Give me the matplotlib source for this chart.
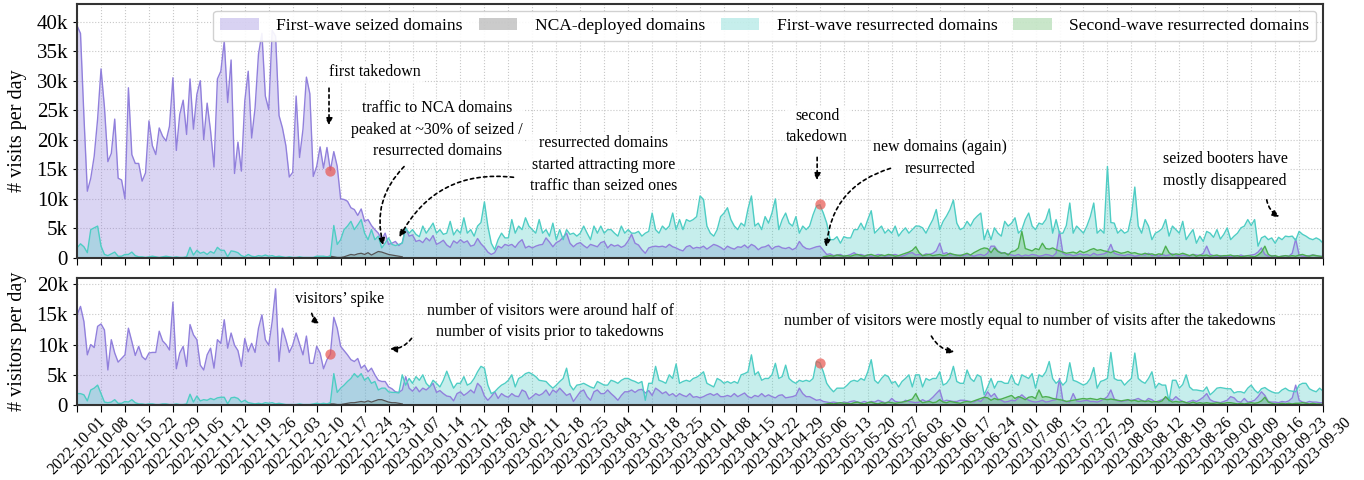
import pandas as pd
import matplotlib
matplotlib.use("Agg")
import matplotlib.pyplot as plt
import matplotlib.dates as mdates
from matplotlib.patches import Patch
from matplotlib.ticker import FuncFormatter, MultipleLocator

plt.rcParams['font.family'] = 'serif'
plt.rcParams['font.serif'] = ['Liberation Serif', 'DejaVu Serif']

# daily values in thousands, starting 2022-10-01
start = '2022-10-01'

seized_visits = [
    39.3, 38.0, 24.0, 11.3, 13.5, 17.2, 23.5,
    32.0, 25.5, 16.3, 17.7, 23.5, 13.5, 13.2,
    10.0, 28.8, 17.5, 16.0, 16.0, 13.0, 14.4,
    23.2, 19.0, 17.5, 22.0, 20.6, 19.8, 22.3,
    30.5, 18.2, 24.3, 26.7, 20.9, 30.3, 21.8,
    27.7, 30.0, 20.0, 26.2, 21.5, 15.4, 30.3,
    31.6, 36.7, 26.3, 33.5, 14.3, 19.6, 14.7,
    26.6, 31.6, 20.3, 25.4, 34.5, 38.0, 27.4,
    25.1, 38.5, 37.5, 24.1, 22.0, 19.0, 13.7,
    14.5, 27.4, 17.0, 21.8, 30.6, 27.8, 13.8,
    15.5, 18.8, 15.2, 18.7, 14.8, 18.0, 15.5,
    10.0, 9.9, 9.6, 8.5, 8.2, 7.2, 8.3,
    6.2, 6.5, 5.5, 4.8, 4.2, 3.1, 4.2,
    2.3, 2.5, 2.8, 2.1, 2.6, 5.1, 3.7,
    3.9, 2.8, 3.0, 2.6, 3.4, 2.9, 3.8,
    2.3, 2.6, 3.0, 2.2, 1.8, 2.9, 2.5,
    3.1, 2.6, 2.9, 2.0, 2.2, 3.3, 2.4,
    1.8, 1.0, 0.6, 0.9, 2.0, 1.7, 2.3,
    2.1, 2.3, 1.8, 2.6, 3.1, 1.7, 2.0,
    1.7, 2.0, 2.2, 2.3, 3.4, 2.7, 1.9,
    2.6, 2.9, 3.5, 4.2, 2.5, 1.9, 2.4,
    2.6, 2.1, 1.7, 2.3, 2.1, 1.9, 2.6,
    2.8, 1.7, 2.3, 2.0, 2.2, 1.8, 2.1,
    2.9, 4.0, 2.5, 2.2, 1.4, 0.8, 1.7,
    1.9, 2.0, 1.9, 2.0, 1.8, 2.3, 1.9,
    1.7, 1.4, 1.2, 1.9, 2.1, 1.6, 1.8,
    1.7, 2.0, 1.5, 1.9, 2.3, 2.1, 1.8,
    1.4, 2.0, 1.7, 1.5, 1.9, 1.8, 2.2,
    1.7, 2.3, 2.0, 1.4, 1.8, 1.9, 2.2,
    1.5, 1.9, 2.0, 1.7, 1.6, 1.8, 1.4,
    1.7, 2.8, 2.0, 1.6, 1.5, 1.7, 1.9,
    2.0, 1.3, 0.6, 0.7, 0.4, 0.5, 0.6,
    0.3, 0.4, 0.6, 0.9, 0.5, 0.6, 0.4,
    0.5, 0.3, 0.4, 0.6, 0.5, 0.3, 0.4,
    0.5, 0.6, 0.4, 0.3, 0.5, 0.8, 0.9,
    0.5, 0.6, 0.4, 0.7, 0.6, 0.8, 1.2,
    2.5, 0.7, 0.9, 0.5, 0.6, 0.4, 0.5,
    0.4, 0.6, 0.5, 0.3, 0.5, 0.6, 0.4,
    0.8, 2.0, 2.0, 1.2, 0.9, 0.8, 0.7,
    0.5, 0.4, 0.6, 0.3, 0.5, 0.4, 0.6,
    0.5, 0.3, 0.4, 0.6, 0.5, 0.3, 0.8,
    4.5, 0.8, 0.5, 0.6, 0.4, 0.5, 0.7,
    0.5, 0.6, 0.4, 0.8, 0.5, 0.6, 0.7,
    1.0, 2.3, 0.8, 0.6, 0.5, 0.4, 0.6,
    0.5, 0.3, 0.4, 0.6, 0.5, 0.8, 0.4,
    0.5, 0.3, 0.6, 0.4, 0.5, 0.7, 0.5,
    0.3, 0.5, 0.4, 0.3, 0.6, 0.5, 0.4,
    0.8, 2.0, 0.6, 0.4, 0.3, 0.4, 0.3,
    0.3, 0.2, 0.4, 0.3, 0.5, 0.3, 0.4,
    0.5, 0.6, 1.0, 1.7, 0.6, 0.3, 0.4,
    0.3, 0.2, 0.3, 0.4, 0.3, 0.8, 3.2,
    0.5, 0.3, 0.3, 0.4, 0.5, 0.4, 0.3,
    0.3]

resurrected_visits = [
    1.7, 2.4, 1.9, 0.9, 4.8, 5.1, 5.4,
    2.0, 0.6, 0.4, 0.7, 1.0, 0.3, 0.3,
    0.6, 0.6, 1.0, 0.4, 0.2, 0.2, 0.1,
    0.2, 0.3, 0.2, 0.1, 0.2, 0.3, 0.2,
    0.1, 0.2, 0.1, 0.1, 0.2, 1.8, 0.5,
    1.3, 0.8, 1.0, 0.6, 1.1, 0.8, 1.8,
    1.3, 1.3, 0.2, 1.2, 1.1, 0.9, 0.4,
    0.2, 0.6, 0.3, 0.2, 0.4, 0.3, 0.5,
    0.3, 0.4, 0.2, 0.3, 0.2, 0.1, 0.2,
    0.1, 0.1, 0.2, 0.1, 0.1, 0.1, 0.1,
    0.3, 0.3, 0.3, 0.2, 0.3, 5.5, 2.3,
    3.1, 4.8, 5.4, 6.2, 4.8, 5.6, 6.5,
    4.2, 3.1, 4.8, 3.1, 3.7, 1.7, 2.5,
    3.4, 2.3, 2.1, 2.3, 2.5, 5.1, 4.2,
    4.8, 4.0, 3.6, 5.4, 4.2, 5.0, 5.9,
    4.2, 4.8, 4.0, 4.2, 6.2, 3.9, 4.8,
    4.2, 6.8, 4.2, 4.8, 3.7, 5.4, 6.0,
    9.5, 5.4, 2.5, 1.4, 3.1, 4.2, 3.4,
    3.4, 6.5, 4.2, 5.4, 4.8, 6.8, 5.4,
    4.8, 4.2, 6.5, 4.2, 4.8, 3.7, 5.9,
    3.1, 4.8, 3.1, 4.8, 4.0, 4.2, 3.7,
    4.2, 5.4, 4.2, 3.1, 5.4, 4.2, 5.4,
    4.2, 4.8, 4.8, 4.2, 3.7, 5.4, 4.2,
    4.8, 4.2, 4.2, 4.5, 3.7, 4.2, 4.5,
    7.6, 4.8, 4.2, 5.4, 4.8, 5.4, 7.6,
    4.8, 6.5, 4.8, 6.5, 6.2, 6.5, 7.0,
    10.5, 9.9, 5.4, 4.2, 3.7, 4.8, 7.0,
    7.6, 8.5, 6.5, 5.4, 4.8, 5.9, 5.4,
    8.3, 10.5, 5.4, 5.9, 4.8, 7.0, 5.9,
    7.6, 10.0, 4.8, 6.5, 7.6, 5.9, 5.4,
    7.0, 4.2, 5.4, 4.8, 5.4, 7.3, 8.8,
    9.0, 7.6, 5.9, 3.1, 3.1, 3.6, 2.5,
    3.6, 3.4, 3.4, 4.8, 4.8, 5.9, 4.8,
    6.5, 8.0, 4.2, 4.8, 5.4, 4.2, 4.8,
    4.2, 5.4, 3.7, 4.5, 5.1, 4.2, 4.8,
    5.4, 5.4, 5.1, 4.2, 5.4, 6.5, 8.2,
    4.8, 6.2, 7.1, 8.2, 9.8, 5.9, 4.8,
    5.1, 6.2, 5.4, 6.5, 7.1, 7.6, 3.1,
    4.8, 3.1, 5.1, 4.2, 3.7, 6.2, 5.4,
    5.9, 6.8, 4.2, 4.8, 6.5, 7.6, 5.4,
    4.8, 5.9, 5.7, 6.5, 8.3, 4.2, 6.5,
    4.2, 4.2, 5.5, 9.3, 4.2, 5.4, 4.8,
    4.2, 5.4, 7.0, 9.3, 4.2, 4.8, 4.2,
    15.5, 6.0, 5.9, 4.2, 4.8, 4.2, 4.5,
    7.1, 12.0, 5.4, 4.2, 6.5, 5.4, 3.1,
    4.2, 4.5, 5.0, 6.5, 3.7, 5.4, 4.8,
    4.2, 6.2, 3.1, 4.0, 4.8, 2.5, 3.7,
    2.8, 4.5, 4.2, 3.5, 4.8, 3.2, 4.0,
    5.1, 3.1, 3.7, 4.2, 5.1, 5.4, 6.5,
    5.5, 6.5, 2.0, 3.4, 3.7, 3.1, 3.4,
    2.5, 3.5, 3.1, 3.7, 3.6, 3.7, 3.0,
    4.5, 4.0, 3.7, 3.3, 3.1, 3.4, 3.1,
    2.5]

# NCA-deployed domains: only seen from 2022-12-12
nca_start = '2022-12-12'
nca_visits = [0.1, 0.2, 0.3, 0.2, 0.1, 0.1, 0.2, 0.4, 0.6, 0.5, 0.7, 0.8,
              0.6, 0.9, 0.5, 0.8, 1.1, 1.0, 0.8, 0.6, 0.5, 0.4, 0.3, 0.2]

# second-wave resurrected domains: from 2023-05-07
second_start = '2023-05-07'
second_visits = [
    0.2, 0.3, 0.4, 0.3, 0.5, 0.4, 0.3,
    0.4, 0.3, 0.5, 0.6, 0.4, 0.3, 0.5,
    0.6, 0.4, 0.3, 0.5, 0.4, 0.6, 0.5,
    0.3, 0.4, 0.6, 0.8, 1.0, 1.3, 1.9,
    0.9, 0.4, 0.5, 0.6, 0.4, 0.5, 0.6,
    0.4, 0.5, 0.8, 0.6, 0.5, 0.4, 0.6,
    0.8, 0.5, 0.9, 1.2, 1.5, 1.7, 1.6,
    0.9, 1.7, 1.1, 0.8, 0.9, 0.5, 1.1,
    1.2, 1.7, 4.5, 1.6, 1.4, 1.2, 1.6,
    1.4, 2.5, 1.6, 1.5, 1.7, 1.4, 1.2,
    1.0, 0.8, 0.9, 1.0, 0.8, 1.2, 0.9,
    1.1, 1.4, 1.6, 1.3, 1.4, 1.2, 1.1,
    0.9, 1.2, 1.0, 0.8, 0.9, 1.1, 0.8,
    0.9, 0.7, 0.6, 0.8, 0.6, 0.7, 0.5,
    0.7, 0.6, 2.0, 0.9, 0.5, 0.7, 0.6,
    0.8, 0.6, 0.4, 0.6, 0.3, 0.5, 0.4,
    0.5, 0.3, 0.4, 0.5, 0.3, 0.4, 0.4,
    0.5, 0.3, 0.4, 0.2, 0.3, 0.4, 0.3,
    0.2, 0.5, 1.0, 2.0, 0.6, 0.3, 0.4,
    0.2, 0.3, 0.4, 0.3, 0.4, 0.3, 0.5,
    0.6, 0.4, 0.3, 0.5, 0.4, 0.3, 0.2]

seized_visitors = [
    14.9, 16.3, 13.8, 8.3, 10.0, 9.5, 13.0,
    13.4, 12.4, 5.8, 10.8, 8.6, 7.1, 7.7,
    8.3, 12.7, 10.5, 8.2, 9.7, 8.0, 7.5,
    8.6, 8.7, 8.7, 12.2, 10.6, 10.0, 9.1,
    17.0, 6.0, 8.6, 9.7, 6.4, 13.3, 11.6,
    10.8, 6.6, 5.8, 8.3, 9.4, 6.1, 10.8,
    10.2, 14.1, 9.4, 11.9, 9.9, 9.0, 6.4,
    11.0, 8.8, 10.2, 8.7, 12.7, 14.9, 10.8,
    9.9, 13.8, 19.2, 7.2, 12.7, 10.8, 8.7,
    9.9, 11.9, 10.1, 8.3, 11.4, 6.9, 6.9,
    9.7, 8.6, 6.0, 7.5, 8.4, 14.5, 12.7,
    9.7, 9.0, 8.3, 7.5, 7.2, 7.7, 6.1,
    6.6, 5.5, 6.1, 5.0, 4.1, 3.9, 3.9,
    3.0, 2.7, 2.2, 2.1, 2.5, 4.7, 2.8,
    2.3, 3.0, 2.2, 2.8, 2.5, 3.0, 3.6,
    2.1, 2.4, 1.9, 1.5, 1.4, 0.7, 1.9,
    2.2, 1.6, 2.0, 2.5, 2.0, 3.6, 3.0,
    1.5, 0.8, 1.4, 2.2, 1.1, 1.9, 1.5,
    1.3, 1.9, 1.5, 1.4, 2.5, 2.2, 1.0,
    1.4, 1.9, 1.6, 1.9, 2.5, 1.6, 2.5,
    2.1, 2.8, 2.2, 1.6, 1.9, 0.6, 1.4,
    2.2, 2.5, 1.4, 0.8, 2.2, 2.5, 1.9,
    1.9, 2.5, 1.9, 1.4, 0.8, 1.6, 2.2,
    2.2, 2.5, 2.1, 2.5, 2.6, 2.0, 2.4,
    1.6, 2.8, 2.4, 1.9, 2.2, 1.6, 1.9,
    1.4, 1.9, 1.6, 1.4, 1.9, 1.3, 1.4,
    1.2, 1.4, 1.7, 1.9, 1.6, 1.9, 1.4,
    1.4, 1.6, 1.4, 1.9, 1.4, 1.7, 2.0,
    1.4, 1.2, 1.6, 1.4, 1.9, 1.4, 1.7,
    1.4, 1.2, 1.6, 1.7, 1.2, 1.3, 1.4,
    1.6, 2.8, 1.9, 1.4, 1.4, 1.1, 0.8,
    0.9, 0.6, 0.5, 0.4, 0.5, 0.4, 0.3,
    0.5, 0.4, 0.6, 0.7, 0.5, 0.4, 0.6,
    0.4, 0.6, 0.5, 0.8, 0.6, 0.4, 0.5,
    1.1, 0.6, 0.5, 0.4, 0.8, 0.6, 0.5,
    0.4, 0.5, 0.9, 0.6, 0.8, 1.3, 1.9,
    2.5, 0.6, 0.8, 0.7, 0.6, 0.6, 0.8,
    0.8, 0.7, 0.6, 0.5, 0.8, 0.6, 1.2,
    2.2, 1.4, 1.9, 1.0, 0.8, 0.5, 0.6,
    0.8, 0.7, 1.2, 1.7, 1.2, 0.8, 0.6,
    0.5, 0.6, 0.8, 0.5, 0.6, 0.8, 0.9,
    4.4, 0.7, 0.6, 0.5, 1.9, 0.7, 0.6,
    0.7, 0.8, 0.6, 0.6, 0.5, 0.7, 1.0,
    1.4, 2.5, 1.0, 0.7, 0.6, 0.7, 0.8,
    0.8, 0.9, 1.1, 0.8, 0.6, 1.1, 0.9,
    0.5, 0.7, 0.9, 1.2, 1.1, 0.8, 1.4,
    0.9, 0.6, 0.4, 0.6, 0.8, 0.6, 0.9,
    1.3, 1.9, 0.9, 0.6, 0.5, 0.4, 0.6,
    0.8, 1.4, 1.2, 0.6, 0.5, 1.1, 0.5,
    0.6, 0.8, 1.4, 2.2, 1.6, 0.6, 0.5,
    0.5, 0.4, 0.6, 0.5, 0.7, 1.2, 3.3,
    0.8, 0.5, 0.4, 0.6, 0.5, 0.5, 0.4,
    0.4]

resurrected_visitors = [
    1.9, 1.9, 1.7, 0.7, 2.5, 2.8, 3.3,
    1.9, 0.5, 0.4, 0.5, 0.9, 0.3, 0.3,
    0.6, 0.5, 0.9, 0.4, 0.2, 0.2, 0.1,
    0.2, 0.2, 0.1, 0.1, 0.2, 0.2, 0.1,
    0.1, 0.2, 0.1, 0.1, 0.2, 1.8, 0.5,
    1.5, 0.7, 0.9, 0.8, 1.1, 0.9, 1.2,
    1.3, 1.3, 0.2, 1.2, 1.3, 1.1, 0.5,
    0.8, 0.4, 0.3, 0.2, 0.3, 0.2, 0.4,
    0.3, 0.4, 0.2, 0.3, 0.2, 0.1, 0.1,
    0.1, 0.1, 0.2, 0.1, 0.1, 0.1, 0.2,
    0.3, 0.2, 0.3, 0.2, 0.4, 5.2, 2.1,
    2.8, 3.3, 3.9, 4.4, 5.2, 4.6, 5.2,
    4.1, 4.6, 3.6, 3.9, 2.5, 2.8, 2.8,
    2.2, 2.1, 2.1, 2.0, 5.0, 3.3, 4.4,
    3.6, 4.7, 4.1, 5.0, 3.6, 3.0, 4.1,
    3.6, 3.0, 4.1, 5.6, 4.1, 2.8, 3.6,
    3.6, 4.7, 3.3, 3.6, 4.4, 5.5, 6.4,
    6.1, 3.3, 1.9, 2.2, 2.8, 3.3, 3.6,
    4.1, 5.0, 3.0, 4.4, 4.7, 5.2, 5.4,
    5.1, 4.7, 4.1, 4.0, 3.9, 3.3, 2.8,
    3.3, 3.9, 4.4, 6.1, 3.3, 2.5, 3.3,
    3.4, 3.6, 3.3, 3.0, 2.8, 3.9, 3.6,
    3.3, 3.3, 4.1, 3.9, 3.6, 4.1, 4.4,
    4.4, 4.1, 3.9, 3.6, 3.9, 0.8, 3.6,
    3.6, 6.4, 4.1, 3.9, 3.6, 5.0, 4.4,
    6.8, 3.6, 3.9, 4.1, 3.9, 4.4, 4.6,
    5.0, 5.5, 3.6, 3.3, 3.0, 4.4, 4.1,
    3.6, 3.9, 3.6, 3.9, 3.6, 5.0, 5.2,
    5.5, 8.3, 5.0, 5.5, 4.1, 4.4, 4.4,
    5.0, 6.9, 4.4, 4.7, 6.6, 4.4, 3.9,
    3.6, 4.1, 3.9, 4.1, 3.9, 4.4, 7.2,
    7.0, 5.5, 3.6, 2.8, 2.2, 2.8, 2.8,
    2.8, 3.3, 3.9, 4.1, 3.9, 4.4, 4.1,
    5.5, 7.5, 4.1, 3.6, 4.4, 5.0, 4.7,
    3.6, 3.9, 3.0, 3.9, 4.4, 5.0, 3.0,
    5.0, 5.0, 3.0, 4.4, 4.1, 4.4, 4.4,
    5.5, 3.3, 3.6, 4.4, 6.4, 3.9, 3.6,
    3.6, 5.8, 4.4, 3.9, 5.0, 4.7, 1.7,
    3.0, 4.4, 2.8, 3.9, 3.9, 3.6, 3.6,
    5.0, 3.6, 3.3, 5.0, 4.7, 4.4, 5.2,
    2.8, 5.0, 4.7, 5.5, 7.2, 4.4, 3.6,
    4.1, 3.3, 3.9, 7.0, 4.1, 3.9, 3.6,
    3.3, 3.6, 4.4, 6.2, 2.8, 3.9, 4.1,
    4.4, 8.7, 4.4, 4.1, 4.1, 3.3, 3.9,
    4.4, 8.6, 4.4, 3.9, 3.6, 4.4, 5.5,
    2.8, 3.6, 3.3, 3.3, 0.6, 4.1, 4.1,
    2.8, 3.4, 5.0, 3.0, 2.5, 2.5, 2.4,
    2.3, 3.0, 1.7, 2.2, 2.8, 2.9, 2.8,
    2.7, 2.7, 2.0, 2.2, 2.2, 2.0, 2.8,
    3.3, 2.5, 2.0, 2.7, 2.9, 2.5, 2.2,
    2.0, 2.0, 2.5, 2.8, 2.4, 2.3, 2.2,
    3.3, 3.6, 3.6, 2.7, 2.4, 2.2, 2.8,
    2.3]

nca_visitors = [0.1, 0.1, 0.2, 0.2, 0.1, 0.1, 0.2, 0.3, 0.4, 0.4, 0.5, 0.6,
                0.5, 0.7, 0.5, 0.7, 0.9, 0.9, 0.7, 0.5, 0.4, 0.4, 0.3, 0.2]

second_visitors = [
    0.1, 0.2, 0.3, 0.2, 0.3, 0.4, 0.3,
    0.3, 0.2, 0.4, 0.5, 0.3, 0.2, 0.4,
    0.5, 0.3, 0.2, 0.4, 0.3, 0.5, 0.4,
    0.3, 0.4, 0.5, 0.6, 0.8, 1.0, 1.9,
    0.8, 0.4, 0.5, 0.6, 0.4, 0.5, 0.9,
    0.5, 0.4, 0.6, 0.5, 0.4, 0.3, 0.5,
    0.6, 0.5, 0.7, 0.9, 1.1, 1.3, 1.2,
    0.8, 1.1, 0.9, 1.0, 1.2, 1.4, 1.6,
    1.1, 1.4, 1.2, 0.9, 1.3, 1.4, 1.1,
    2.5, 1.3, 1.4, 1.3, 1.1, 1.0, 0.9,
    0.8, 0.6, 0.7, 0.8, 0.9, 1.0, 1.1,
    1.0, 1.1, 1.0, 0.9, 1.1, 1.0, 0.9,
    1.0, 0.9, 0.8, 0.7, 0.8, 0.9, 0.7,
    0.8, 0.6, 0.7, 0.6, 0.7, 0.5, 0.6,
    0.5, 0.7, 1.4, 0.8, 0.5, 0.6, 0.5,
    0.6, 0.4, 0.3, 0.5, 0.3, 0.4, 0.3,
    0.4, 0.3, 0.3, 0.4, 0.3, 0.3, 0.4,
    0.4, 0.3, 0.2, 0.3, 0.2, 0.3, 0.4,
    0.3, 0.4, 0.7, 1.3, 0.5, 0.3, 0.2,
    0.2, 0.3, 0.2, 0.3, 0.2, 0.3, 0.3,
    0.4, 0.3, 0.2, 0.3, 0.2, 0.2, 0.1]

# takedown markers
takedown_dates = ['2022-12-14', '2023-05-06']
takedown_visits = [14.8, 9.2]
takedown_visitors = [8.4, 7.0]

labels = ['First-wave seized domains', 'NCA-deployed domains',
          'First-wave resurrected domains', 'Second-wave resurrected domains']

PURPLE = '#9180dc'
GRAY = '#8c8c8c'
TEAL = '#4ecdc4'
GREEN = '#4caf50'

dates = pd.date_range(start, periods=len(seized_visits))
nca_dates = pd.date_range(nca_start, periods=len(nca_visits))
second_dates = pd.date_range(second_start, periods=len(second_visits))


def day(n):
    return pd.Timestamp(start) + pd.Timedelta(days=n)


def draw(ax, seized, nca, res, second, dots):
    ax.fill_between(dates, seized, color=PURPLE, alpha=0.33, lw=0)
    ax.fill_between(nca_dates, nca, color=GRAY, alpha=0.45, lw=0)
    ax.fill_between(dates, res, color=TEAL, alpha=0.32, lw=0)
    ax.fill_between(second_dates, second, color=GREEN, alpha=0.3, lw=0)
    ax.plot(dates, seized, color=PURPLE, lw=1.0)
    ax.plot(nca_dates, nca, color='#555555', lw=0.9)
    ax.plot(dates, res, color=TEAL, lw=1.0)
    ax.plot(second_dates, second, color=GREEN, lw=1.0)
    ax.scatter(pd.to_datetime(takedown_dates), dots, s=55, color='#e8564f',
               alpha=0.7, zorder=5, lw=0)


fig = plt.figure(figsize=(13.64, 4.8), dpi=100)
ax1 = fig.add_axes([0.0565, 0.4625, 0.9135, 0.5295])
ax2 = fig.add_axes([0.0565, 0.156, 0.9135, 0.265], sharex=ax1)

draw(ax1, seized_visits, nca_visits, resurrected_visits, second_visits, takedown_visits)
draw(ax2, seized_visitors, nca_visitors, resurrected_visitors, second_visitors, takedown_visitors)

ax1.set_ylim(0, 43)
ax2.set_ylim(0, 21)
ax1.yaxis.set_major_locator(MultipleLocator(5))
ax2.yaxis.set_major_locator(MultipleLocator(5))
kfmt = FuncFormatter(lambda v, p: '0' if v == 0 else '%dk' % v)
ticks = pd.date_range(start, '2023-09-30', freq='7D')
for ax in (ax1, ax2):
    ax.yaxis.set_major_formatter(kfmt)
    ax.set_xlim(dates[0], dates[-1])
    ax.set_xticks(ticks)
    ax.grid(True, color='#c8c8c8', ls=':', lw=0.8)
    ax.set_axisbelow(True)
    ax.tick_params(axis='y', labelsize=15, length=3)
    ax.tick_params(axis='x', length=5, direction='out', pad=1.5)
    for s in ax.spines.values():
        s.set_color('#333333')
        s.set_linewidth(1.5)

ax2.xaxis.set_major_formatter(mdates.DateFormatter('%Y-%m-%d'))
plt.setp(ax1.get_xticklabels(), visible=False)
plt.setp(ax2.get_xticklabels(), rotation=45, ha='center', fontsize=11.3)

ax1.set_ylabel('# visits per day', fontsize=14.5)
ax2.set_ylabel('# visitors per day', fontsize=14.5)
ax1.yaxis.set_label_coords(-0.04, 0.5)
ax2.yaxis.set_label_coords(-0.04, 0.5)

handles = [Patch(facecolor=PURPLE, alpha=0.35), Patch(facecolor=GRAY, alpha=0.45),
           Patch(facecolor=TEAL, alpha=0.32), Patch(facecolor=GREEN, alpha=0.3)]
ax1.legend(handles, labels, loc='upper right', ncol=4, fontsize=12.6,
           handlelength=2.2, handletextpad=1.0, columnspacing=0.9,
           framealpha=0.9, edgecolor='#cccccc', borderaxespad=0.4)

arrow = dict(arrowstyle='-|>', color='black', lw=1.2, ls=(0, (2, 2)), mutation_scale=10)
fs = 11.5


def note(ax, text, txy, start_xy, end_xy, rad=0.0):
    ax.text(day(txy[0]), txy[1], text, ha='center', va='center', fontsize=fs,
            linespacing=1.45,
            bbox=dict(facecolor='white', edgecolor='none', alpha=0.85, pad=1))
    ax.annotate('', xy=(day(end_xy[0]), end_xy[1]),
                xytext=(day(start_xy[0]), start_xy[1]),
                arrowprops=dict(connectionstyle='arc3,rad=%s' % rad, **arrow))


note(ax1, 'first takedown', (87.1, 31.4), (73.6, 29.2), (73.6, 22.0))
note(ax1, 'traffic to NCA domains\npeaked at ~30% of seized /\nresurrected domains',
     (105.2, 21.7), (96.1, 15.8), (89.7, 1.7), rad=0.3)
note(ax1, 'resurrected domains\nstarted attracting more\ntraffic than seized ones',
     (153.7, 15.8), (128.3, 13.6), (93.8, 3.1), rad=0.35)
note(ax1, 'second\ntakedown', (216.2, 22.2), (216.2, 17.5), (216.2, 12.7))
note(ax1, 'new domains (again)\nresurrected', (252.1, 16.9), (238.4, 15.3),
     (218.8, 1.4), rad=0.35)
note(ax1, 'seized booters have\nmostly disappeared', (335.4, 14.9), (347.4, 10.3),
     (352.0, 6.8), rad=0.3)

note(ax2, 'visitors\u2019 spike', (76.8, 17.6), (68.4, 15.6), (71.6, 13.3), rad=0.3)
note(ax2, 'number of visitors were around half of\nnumber of visits prior to takedowns',
     (138.2, 13.8), (98.2, 11.4), (90.6, 9.3), rad=-0.3)
note(ax2, 'number of visitors were mostly equal to number of visits after the takedowns',
     (278.4, 13.9), (249.2, 11.8), (257.1, 8.8), rad=0.3)

fig.savefig('out.png', dpi=100)
